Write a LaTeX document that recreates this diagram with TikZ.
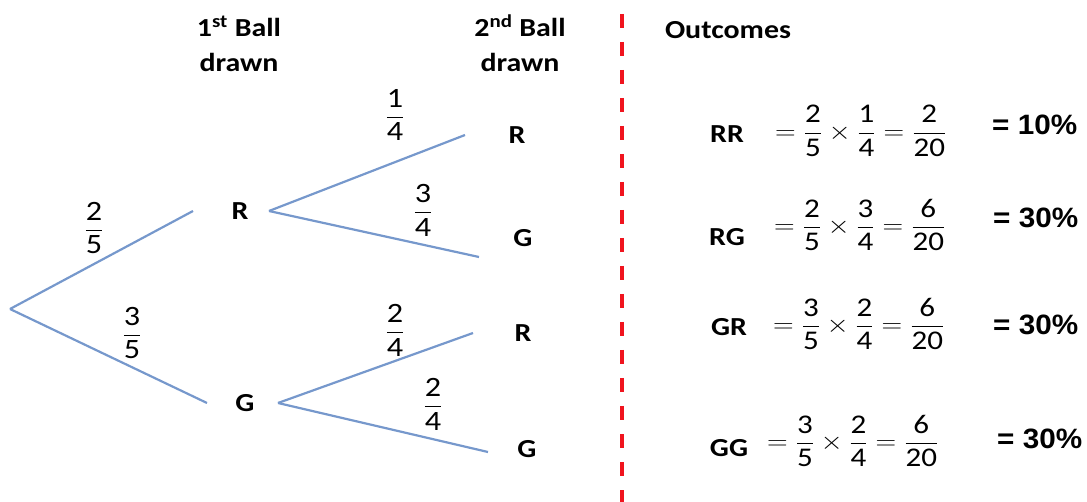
\documentclass[tikz,border=0pt]{standalone}
\usepackage{fontspec}
\usepackage{amsmath}
\usepackage{graphicx}
\setmainfont{Carlito}
\newfontfamily\arialf{Liberation Sans}
\definecolor{treeblue}{RGB}{118,152,204}
\definecolor{divred}{RGB}{240,20,30}
\newcommand\sx[1]{\scalebox{1.15}[1]{#1}}
\newcommand\fr[2]{\dfrac{\mbox{#1}}{\mbox{#2}}}
\begin{document}
\begin{tikzpicture}[x=1pt,y=-1pt,
  branch/.style={draw=treeblue, line width=2.2pt},
  lbl/.style={font=\fontsize{26}{30}\selectfont\bfseries, inner sep=0pt},
  hdr/.style={font=\fontsize{26}{30}\selectfont\bfseries, inner sep=0pt, anchor=base},
  frc/.style={font=\fontsize{28}{32}\selectfont, inner sep=0pt},
  eqn/.style={font=\fontsize{27}{31}\selectfont, inner sep=0pt, anchor=west},
  pct/.style={font=\arialf\bfseries\fontsize{28}{32}\selectfont, inner sep=0pt, anchor=west},
  divider/.style={draw=divred, line width=4pt, dash pattern=on 14pt off 14pt}]
\useasboundingbox (0,0) rectangle (1087,502);

% headers
\node[hdr] (h1a) at (239,37) {\sx{1\textsuperscript{st} Ball}};
\node[hdr] (h1b) at (239,72) {\sx{drawn}};
\node[hdr] (h2a) at (520,37) {\sx{2\textsuperscript{nd} Ball}};
\node[hdr] (h2b) at (520,72) {\sx{drawn}};
\node[lbl] (outc) at (728,30) {\sx{Outcomes}};

% divider
\draw[divider] (622,14) -- (622,502);

% tree nodes
\coordinate (root) at (10,309);
\node[lbl] (R1) at (240,211) {\sx{R}};
\node[lbl] (G1) at (245,403) {\sx{G}};
\node[lbl] (RR2) at (517,135) {\sx{R}};
\node[lbl] (RG2) at (523,238) {\sx{G}};
\node[lbl] (GR2) at (523,333) {\sx{R}};
\node[lbl] (GG2) at (527,449) {\sx{G}};

% branches
\draw[branch] (root) -- ([xshift=-47pt]R1.center);
\draw[branch] (root) -- ([xshift=-38pt]G1.center);
\draw[branch] ([xshift=29pt]R1.center) -- ([xshift=-52pt]RR2.center);
\draw[branch] ([xshift=29pt]R1.center) -- ([shift={(-44pt,-19pt)}]RG2.center);
\draw[branch] ([xshift=33pt]G1.center) -- ([xshift=-50pt]GR2.center);
\draw[branch] ([xshift=33pt]G1.center) -- ([shift={(-39pt,-3pt)}]GG2.center);

% branch probabilities
\node[frc] (p25) at (94,228) {\sx{$\fr{2}{5}$}};
\node[frc] (p35) at (132,333) {\sx{$\fr{3}{5}$}};
\node[frc] (p14) at (395,115) {\sx{$\fr{1}{4}$}};
\node[frc] (p34) at (423,210) {\sx{$\fr{3}{4}$}};
\node[frc] (p24a) at (395,330) {\sx{$\fr{2}{4}$}};
\node[frc] (p24b) at (433,404) {\sx{$\fr{2}{4}$}};

% outcomes
\node[lbl] (oRR) at (727,134) {\sx{RR}};
\node[lbl] (oRG) at (727,237) {\sx{RG}};
\node[lbl] (oGR) at (729,327) {\sx{GR}};
\node[lbl] (oGG) at (729,448) {\sx{GG}};

\node[eqn] (eRR) at (775,131) {\sx{$=\fr{2}{5}\times\fr{1}{4}=\fr{2}{20}$}};
\node[eqn] (eRG) at (774,225) {\sx{$=\fr{2}{5}\times\fr{3}{4}=\fr{6}{20}$}};
\node[eqn] (eGR) at (773,324) {\sx{$=\fr{3}{5}\times\fr{2}{4}=\fr{6}{20}$}};
\node[eqn] (eGG) at (767,441) {\sx{$=\fr{3}{5}\times\fr{2}{4}=\fr{6}{20}$}};

\node[pct] (cRR) at (992,125) {\scalebox{1.06}[1]{= 10\%}};
\node[pct] (cRG) at (993,218) {\scalebox{1.06}[1]{= 30\%}};
\node[pct] (cGR) at (993,325) {\scalebox{1.06}[1]{= 30\%}};
\node[pct] (cGG) at (997,439) {\scalebox{1.06}[1]{= 30\%}};
\end{tikzpicture}
\end{document}
